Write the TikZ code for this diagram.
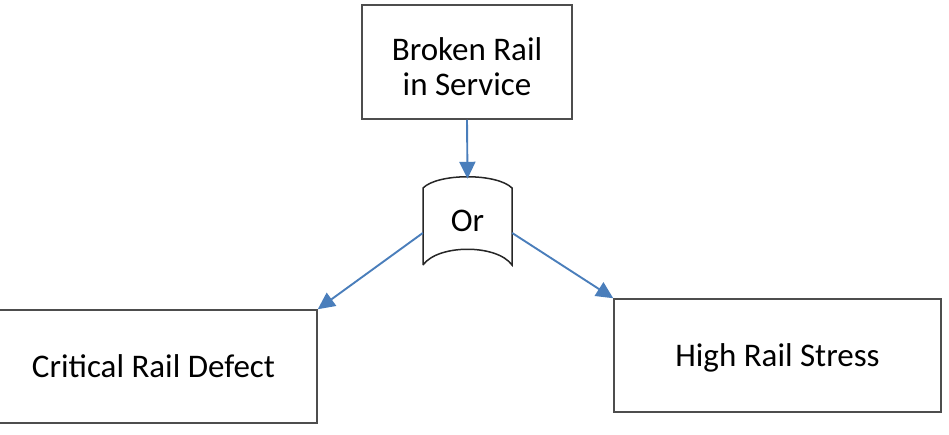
\documentclass[tikz,border=0pt]{standalone}
\usepackage{fontspec}
\setmainfont{Carlito}
\usetikzlibrary{arrows.meta}
\definecolor{arrowblue}{HTML}{4A7EBB}
\definecolor{framegray}{HTML}{4D4D4D}
\tikzset{
  box/.style={draw=framegray, line width=1.5pt, fill=white, inner sep=0pt,
    font=\fontsize{33}{35}\selectfont},
  onelinetext/.style={text height=21pt, text depth=0pt},
  link/.style={draw=arrowblue, line width=1.9pt, -{Triangle[length=17pt,width=16pt]}},
  gateline/.style={draw=black!85, line width=1.5pt}
}
\begin{document}
\begin{tikzpicture}[x=1pt,y=-1pt]
\useasboundingbox (0,0) rectangle (949,434);
\node[box, minimum width=210pt, minimum height=114pt, align=center,
      text height=66pt, text depth=0pt] (top) at (467,62) {Broken Rail\\in Service};
\node[box, onelinetext, minimum width=327pt, minimum height=113pt] (left) at (153.5,366.5) {Critical Rail Defect};
\node[box, onelinetext, minimum width=327pt, minimum height=113pt] (right) at (777.5,355.5) {High Rail Stress};
% OR gate
\draw[gateline] (423,265) -- (423,188)
      .. controls (438,173) and (497,173) .. (512,188) -- (512,265)
      .. controls (497,244) and (438,244) .. (423,265);
\node[onelinetext, inner sep=0pt, minimum width=89pt, minimum height=88pt,
      font=\fontsize{33}{35}\selectfont] (gate) at (467.5,221) {Or};
% connectors
\draw[link] (top.south) -- ([yshift=-2pt]gate.north);
\draw[link] ([yshift=-12pt]gate.west) -- (left.north east);
\draw[link] ([yshift=-12pt]gate.east) -- (right.north west);
\end{tikzpicture}
\end{document}
